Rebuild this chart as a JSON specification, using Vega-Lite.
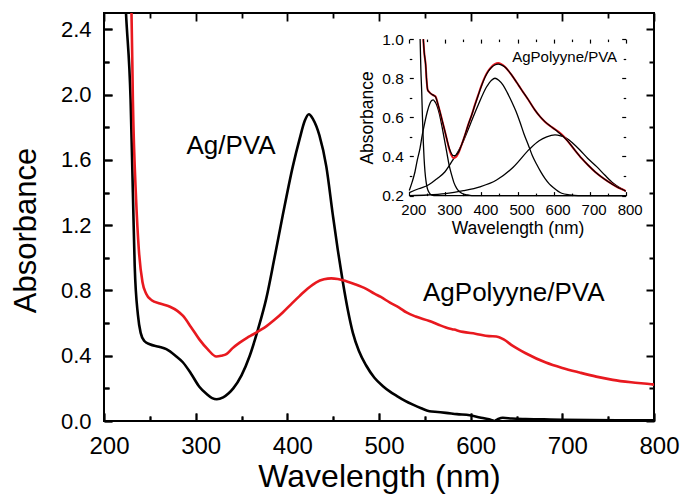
{
  "$schema": "https://vega.github.io/schema/vega-lite/v6.json",
  "width": 550,
  "height": 408,
  "autosize": {"type": "none"},
  "padding": {"left": 104, "top": 13, "right": 29, "bottom": 74},
  "background": "white",
  "config": {
    "view": {"stroke": "black", "strokeWidth": 2},
    "font": "Liberation Sans",
    "axis": {"grid": false, "domain": false, "labelFlush": false, "labelOverlap": false, "titleFontWeight": "normal", "labelFont": "Liberation Sans", "titleFont": "Liberation Sans"}
  },
  "datasets": {
    "agpva": [
      {"nm": 223.5, "v": 2.56}, {"nm": 224, "v": 2.5}, {"nm": 229, "v": 1.97}, {"nm": 231.5, "v": 1.4},
      {"nm": 233.5, "v": 0.95}, {"nm": 237, "v": 0.65}, {"nm": 240, "v": 0.54}, {"nm": 244, "v": 0.49},
      {"nm": 250, "v": 0.47}, {"nm": 260, "v": 0.455}, {"nm": 268, "v": 0.44}, {"nm": 278, "v": 0.4},
      {"nm": 286, "v": 0.36}, {"nm": 295, "v": 0.29}, {"nm": 304, "v": 0.21}, {"nm": 312, "v": 0.165},
      {"nm": 318, "v": 0.14}, {"nm": 323, "v": 0.133}, {"nm": 330, "v": 0.145}, {"nm": 336, "v": 0.17},
      {"nm": 341, "v": 0.2}, {"nm": 350, "v": 0.28}, {"nm": 359, "v": 0.4}, {"nm": 368, "v": 0.562},
      {"nm": 377, "v": 0.75}, {"nm": 386, "v": 1.0}, {"nm": 395, "v": 1.26}, {"nm": 406, "v": 1.56},
      {"nm": 413.5, "v": 1.73}, {"nm": 419, "v": 1.84}, {"nm": 423.5, "v": 1.88}, {"nm": 428, "v": 1.85},
      {"nm": 435, "v": 1.75}, {"nm": 442.5, "v": 1.56}, {"nm": 449.7, "v": 1.26}, {"nm": 455, "v": 1.05},
      {"nm": 460.6, "v": 0.85}, {"nm": 466, "v": 0.68}, {"nm": 471.5, "v": 0.54}, {"nm": 478, "v": 0.43},
      {"nm": 486, "v": 0.34}, {"nm": 495, "v": 0.265}, {"nm": 504, "v": 0.215}, {"nm": 512, "v": 0.18},
      {"nm": 519, "v": 0.155}, {"nm": 528, "v": 0.125}, {"nm": 537, "v": 0.1}, {"nm": 546, "v": 0.078},
      {"nm": 555, "v": 0.06}, {"nm": 564, "v": 0.055}, {"nm": 573, "v": 0.05}, {"nm": 585, "v": 0.042},
      {"nm": 599, "v": 0.035}, {"nm": 610, "v": 0.022}, {"nm": 620, "v": 0.01}, {"nm": 626, "v": 0.0},
      {"nm": 630, "v": 0.012}, {"nm": 635, "v": 0.02}, {"nm": 645, "v": 0.015}, {"nm": 660, "v": 0.012},
      {"nm": 680, "v": 0.01}, {"nm": 700, "v": 0.008}, {"nm": 730, "v": 0.006}, {"nm": 760, "v": 0.005},
      {"nm": 800, "v": 0.005}
    ],
    "agpoly": [
      {"nm": 229.5, "v": 2.56}, {"nm": 230, "v": 2.5}, {"nm": 231.5, "v": 1.97}, {"nm": 235, "v": 1.36},
      {"nm": 238, "v": 1.05}, {"nm": 242, "v": 0.85}, {"nm": 246, "v": 0.78}, {"nm": 252, "v": 0.74},
      {"nm": 261, "v": 0.72}, {"nm": 272, "v": 0.7}, {"nm": 280, "v": 0.675}, {"nm": 286, "v": 0.645},
      {"nm": 295, "v": 0.575}, {"nm": 304, "v": 0.5}, {"nm": 313, "v": 0.44}, {"nm": 322.6, "v": 0.395},
      {"nm": 328, "v": 0.4}, {"nm": 333.5, "v": 0.41}, {"nm": 340, "v": 0.445}, {"nm": 348, "v": 0.48},
      {"nm": 356, "v": 0.51}, {"nm": 362.5, "v": 0.53}, {"nm": 370, "v": 0.555}, {"nm": 377, "v": 0.58},
      {"nm": 386, "v": 0.62}, {"nm": 395, "v": 0.665}, {"nm": 404, "v": 0.715}, {"nm": 413.5, "v": 0.767},
      {"nm": 422, "v": 0.81}, {"nm": 431.6, "v": 0.85}, {"nm": 440, "v": 0.868}, {"nm": 448, "v": 0.874},
      {"nm": 455, "v": 0.87}, {"nm": 460.6, "v": 0.863}, {"nm": 473, "v": 0.84}, {"nm": 486, "v": 0.81},
      {"nm": 495, "v": 0.78}, {"nm": 502, "v": 0.76}, {"nm": 512, "v": 0.725}, {"nm": 522, "v": 0.695},
      {"nm": 530, "v": 0.665}, {"nm": 540, "v": 0.64}, {"nm": 555, "v": 0.613}, {"nm": 565, "v": 0.59},
      {"nm": 573, "v": 0.573}, {"nm": 582, "v": 0.56}, {"nm": 591.5, "v": 0.546}, {"nm": 605, "v": 0.535},
      {"nm": 620, "v": 0.52}, {"nm": 628, "v": 0.518}, {"nm": 636, "v": 0.5}, {"nm": 646, "v": 0.46},
      {"nm": 660, "v": 0.415}, {"nm": 682, "v": 0.358}, {"nm": 700, "v": 0.325}, {"nm": 718.8, "v": 0.297},
      {"nm": 737, "v": 0.272}, {"nm": 755, "v": 0.252}, {"nm": 775, "v": 0.237}, {"nm": 797, "v": 0.225},
      {"nm": 800, "v": 0.223}
    ],
    "label1": [{"label": "Ag/PVA", "nm": 290, "v": 1.636}],
    "label2": [{"label": "AgPolyyne/PVA", "nm": 548, "v": 0.733}],
    "comps": [
      {"comp": "A", "nm": 230, "v": 1.0}, {"comp": "A", "nm": 232, "v": 0.85}, {"comp": "A", "nm": 234.4, "v": 0.731},
      {"comp": "A", "nm": 236.5, "v": 0.6}, {"comp": "A", "nm": 238.8, "v": 0.476}, {"comp": "A", "nm": 241, "v": 0.39},
      {"comp": "A", "nm": 243.5, "v": 0.322}, {"comp": "A", "nm": 247, "v": 0.265}, {"comp": "A", "nm": 250, "v": 0.237},
      {"comp": "A", "nm": 256, "v": 0.213}, {"comp": "A", "nm": 262, "v": 0.203}, {"comp": "A", "nm": 275, "v": 0.2},
      {"comp": "A", "nm": 800, "v": 0.2},
      {"comp": "B", "nm": 200, "v": 0.226}, {"comp": "B", "nm": 208, "v": 0.27}, {"comp": "B", "nm": 215.8, "v": 0.322},
      {"comp": "B", "nm": 222, "v": 0.38}, {"comp": "B", "nm": 229.7, "v": 0.442}, {"comp": "B", "nm": 236, "v": 0.51},
      {"comp": "B", "nm": 243.5, "v": 0.578}, {"comp": "B", "nm": 250, "v": 0.63}, {"comp": "B", "nm": 257.4, "v": 0.672},
      {"comp": "B", "nm": 262, "v": 0.686}, {"comp": "B", "nm": 266.5, "v": 0.689}, {"comp": "B", "nm": 271, "v": 0.68},
      {"comp": "B", "nm": 276, "v": 0.663}, {"comp": "B", "nm": 283, "v": 0.62}, {"comp": "B", "nm": 289.8, "v": 0.561},
      {"comp": "B", "nm": 297, "v": 0.49}, {"comp": "B", "nm": 303.7, "v": 0.424}, {"comp": "B", "nm": 310, "v": 0.36},
      {"comp": "B", "nm": 317.5, "v": 0.305}, {"comp": "B", "nm": 324, "v": 0.265}, {"comp": "B", "nm": 331.4, "v": 0.237},
      {"comp": "B", "nm": 338, "v": 0.222}, {"comp": "B", "nm": 345.3, "v": 0.212}, {"comp": "B", "nm": 360, "v": 0.204},
      {"comp": "B", "nm": 373, "v": 0.2}, {"comp": "B", "nm": 800, "v": 0.2},
      {"comp": "C", "nm": 200, "v": 0.215}, {"comp": "C", "nm": 226, "v": 0.235}, {"comp": "C", "nm": 252.7, "v": 0.254},
      {"comp": "C", "nm": 276, "v": 0.285}, {"comp": "C", "nm": 299, "v": 0.322}, {"comp": "C", "nm": 320, "v": 0.38},
      {"comp": "C", "nm": 345, "v": 0.459}, {"comp": "C", "nm": 368, "v": 0.56}, {"comp": "C", "nm": 391, "v": 0.663},
      {"comp": "C", "nm": 414, "v": 0.755}, {"comp": "C", "nm": 428, "v": 0.79}, {"comp": "C", "nm": 437.6, "v": 0.8},
      {"comp": "C", "nm": 448, "v": 0.79}, {"comp": "C", "nm": 460, "v": 0.765}, {"comp": "C", "nm": 472, "v": 0.725},
      {"comp": "C", "nm": 484, "v": 0.68}, {"comp": "C", "nm": 496, "v": 0.63}, {"comp": "C", "nm": 507, "v": 0.575},
      {"comp": "C", "nm": 518, "v": 0.515}, {"comp": "C", "nm": 530, "v": 0.459}, {"comp": "C", "nm": 541, "v": 0.405},
      {"comp": "C", "nm": 553, "v": 0.36}, {"comp": "C", "nm": 565, "v": 0.32}, {"comp": "C", "nm": 576, "v": 0.288},
      {"comp": "C", "nm": 588, "v": 0.26}, {"comp": "C", "nm": 600, "v": 0.24}, {"comp": "C", "nm": 622.5, "v": 0.212},
      {"comp": "C", "nm": 645, "v": 0.204}, {"comp": "C", "nm": 668, "v": 0.2}, {"comp": "C", "nm": 800, "v": 0.2},
      {"comp": "D", "nm": 200, "v": 0.2}, {"comp": "D", "nm": 250, "v": 0.203}, {"comp": "D", "nm": 300, "v": 0.21},
      {"comp": "D", "nm": 350, "v": 0.225}, {"comp": "D", "nm": 396, "v": 0.245}, {"comp": "D", "nm": 442, "v": 0.28},
      {"comp": "D", "nm": 488, "v": 0.345}, {"comp": "D", "nm": 534.6, "v": 0.44}, {"comp": "D", "nm": 560, "v": 0.48},
      {"comp": "D", "nm": 581, "v": 0.5}, {"comp": "D", "nm": 604, "v": 0.51}, {"comp": "D", "nm": 620, "v": 0.505},
      {"comp": "D", "nm": 636, "v": 0.493}, {"comp": "D", "nm": 655, "v": 0.465}, {"comp": "D", "nm": 673, "v": 0.433},
      {"comp": "D", "nm": 695, "v": 0.39}, {"comp": "D", "nm": 719.5, "v": 0.348}, {"comp": "D", "nm": 742, "v": 0.305},
      {"comp": "D", "nm": 765.6, "v": 0.263}, {"comp": "D", "nm": 785, "v": 0.238}, {"comp": "D", "nm": 800, "v": 0.222}
    ],
    "insetData": [
      {"nm": 238.8, "v": 1.0}, {"nm": 241.5, "v": 0.93}, {"nm": 245.4, "v": 0.868}, {"nm": 248, "v": 0.79},
      {"nm": 251, "v": 0.74}, {"nm": 256, "v": 0.728}, {"nm": 262, "v": 0.718}, {"nm": 268, "v": 0.712},
      {"nm": 273, "v": 0.706}, {"nm": 279, "v": 0.67}, {"nm": 285, "v": 0.629}, {"nm": 292, "v": 0.578},
      {"nm": 299, "v": 0.527}, {"nm": 305, "v": 0.48}, {"nm": 310, "v": 0.442}, {"nm": 316, "v": 0.41},
      {"nm": 322, "v": 0.392}, {"nm": 328, "v": 0.395}, {"nm": 336, "v": 0.416}, {"nm": 345, "v": 0.46},
      {"nm": 354.4, "v": 0.51}, {"nm": 363, "v": 0.56}, {"nm": 373, "v": 0.612}, {"nm": 382, "v": 0.665},
      {"nm": 391, "v": 0.714}, {"nm": 400, "v": 0.762}, {"nm": 410, "v": 0.808}, {"nm": 419, "v": 0.838},
      {"nm": 428.4, "v": 0.859}, {"nm": 437, "v": 0.872}, {"nm": 446.7, "v": 0.878}, {"nm": 455, "v": 0.872},
      {"nm": 465, "v": 0.859}, {"nm": 475, "v": 0.838}, {"nm": 484, "v": 0.816}, {"nm": 498, "v": 0.778},
      {"nm": 511.6, "v": 0.74}, {"nm": 530, "v": 0.69}, {"nm": 548.5, "v": 0.637}, {"nm": 562, "v": 0.605},
      {"nm": 576, "v": 0.578}, {"nm": 595, "v": 0.55}, {"nm": 613, "v": 0.527}, {"nm": 627, "v": 0.505},
      {"nm": 641, "v": 0.475}, {"nm": 660, "v": 0.43}, {"nm": 678, "v": 0.39}, {"nm": 696, "v": 0.355},
      {"nm": 714.8, "v": 0.322}, {"nm": 733, "v": 0.295}, {"nm": 751.7, "v": 0.271}, {"nm": 775, "v": 0.245},
      {"nm": 798, "v": 0.225}, {"nm": 800, "v": 0.223}
    ],
    "insetFit": [
      {"nm": 238.8, "v": 1.0}, {"nm": 241.5, "v": 0.93}, {"nm": 245.4, "v": 0.868}, {"nm": 248, "v": 0.79},
      {"nm": 251, "v": 0.74}, {"nm": 256, "v": 0.728}, {"nm": 262, "v": 0.718}, {"nm": 268, "v": 0.712},
      {"nm": 273, "v": 0.704}, {"nm": 279, "v": 0.67}, {"nm": 285, "v": 0.629}, {"nm": 292, "v": 0.578},
      {"nm": 299, "v": 0.527}, {"nm": 305, "v": 0.482}, {"nm": 310, "v": 0.447}, {"nm": 316, "v": 0.418},
      {"nm": 322, "v": 0.404}, {"nm": 328, "v": 0.405}, {"nm": 336, "v": 0.42}, {"nm": 345, "v": 0.46},
      {"nm": 354.4, "v": 0.51}, {"nm": 363, "v": 0.56}, {"nm": 373, "v": 0.612}, {"nm": 382, "v": 0.663},
      {"nm": 391, "v": 0.712}, {"nm": 400, "v": 0.76}, {"nm": 410, "v": 0.805}, {"nm": 419, "v": 0.835},
      {"nm": 428.4, "v": 0.856}, {"nm": 437, "v": 0.868}, {"nm": 446.7, "v": 0.872}, {"nm": 455, "v": 0.868},
      {"nm": 465, "v": 0.857}, {"nm": 475, "v": 0.838}, {"nm": 484, "v": 0.816}, {"nm": 498, "v": 0.778},
      {"nm": 511.6, "v": 0.74}, {"nm": 530, "v": 0.69}, {"nm": 548.5, "v": 0.637}, {"nm": 562, "v": 0.605},
      {"nm": 576, "v": 0.578}, {"nm": 595, "v": 0.55}, {"nm": 613, "v": 0.524}, {"nm": 627, "v": 0.502},
      {"nm": 641, "v": 0.475}, {"nm": 660, "v": 0.43}, {"nm": 678, "v": 0.39}, {"nm": 696, "v": 0.355},
      {"nm": 714.8, "v": 0.322}, {"nm": 733, "v": 0.295}, {"nm": 751.7, "v": 0.271}, {"nm": 775, "v": 0.245},
      {"nm": 798, "v": 0.225}, {"nm": 800, "v": 0.223}
    ],
    "insetLabel": [{"label": "AgPolyyne/PVA", "nm": 776, "v": 0.883}]
  },
  "layer": [
    {
      "mark": {"type": "rect", "fill": "white", "fillOpacity": 0, "stroke": "black", "strokeWidth": 1.3},
      "encoding": {
        "x": {"datum": 200, "type": "quantitative", "scale": {"domain": [200, 800], "range": [305.3, 521.7], "nice": false, "zero": false}, "axis": null},
        "x2": {"datum": 800},
        "y": {"datum": 0.2, "type": "quantitative", "scale": {"domain": [0.2, 1.0], "range": [182.6, 26.1], "nice": false, "zero": false}, "axis": null},
        "y2": {"datum": 1.0}
      }
    },
    {
      "data": {"name": "comps"},
      "mark": {"type": "line", "color": "black", "strokeWidth": 1.3, "interpolate": "monotone"},
      "encoding": {
        "detail": {"field": "comp"},
        "x": {"field": "nm", "type": "quantitative", "scale": {"domain": [200, 800], "range": [305.3, 521.7], "nice": false, "zero": false},
          "axis": {"orient": "bottom", "offset": -229.4, "values": [200, 300, 400, 500, 600, 700, 800], "tickSize": 4, "tickWidth": 1.2, "tickColor": "black",
            "labelFontSize": 15, "labelPadding": 7, "labelOffset": 4, "labelColor": "black",
            "title": "Wavelength (nm)", "titleFontSize": 17.5, "titleColor": "black", "titleBaseline": "alphabetic", "titleX": 413.5, "titleY": 42}},
        "y": {"field": "v", "type": "quantitative", "scale": {"domain": [0.2, 1.0], "range": [182.6, 26.1], "nice": false, "zero": false},
          "axis": {"orient": "left", "offset": -309.3, "values": [0.2, 0.4, 0.6, 0.8, 1.0], "format": ".1f", "tickSize": 4, "tickWidth": 1.2, "tickColor": "black",
            "labelFontSize": 15.5, "labelPadding": 6, "labelColor": "black",
            "title": "Absorbance", "titleFontSize": 17.5, "titleColor": "black", "titleBaseline": "alphabetic", "titleX": -41.3, "titleY": 104.4, "titleAngle": -90}}
      }
    },
    {
      "data": {"name": "insetData"},
      "mark": {"type": "line", "color": "#e8191f", "strokeWidth": 2, "interpolate": "monotone"},
      "encoding": {
        "x": {"field": "nm", "type": "quantitative", "scale": {"domain": [200, 800], "range": [305.3, 521.7], "nice": false, "zero": false},
          "axis": {"orient": "bottom", "offset": -227.9, "values": [250, 350, 450, 550, 650, 750], "tickSize": 2.5, "tickWidth": 1.2, "tickColor": "black",
            "labels": false, "title": null}},
        "y": {"field": "v", "type": "quantitative", "scale": {"domain": [0.2, 1.0], "range": [182.6, 26.1], "nice": false, "zero": false},
          "axis": {"orient": "left", "offset": -307.8, "values": [0.3, 0.5, 0.7, 0.9], "tickSize": 2.5, "tickWidth": 1.2, "tickColor": "black",
            "labels": false, "title": null}}
      }
    },
    {
      "data": {"name": "insetFit"},
      "mark": {"type": "line", "color": "black", "strokeWidth": 1.2, "interpolate": "monotone"},
      "encoding": {
        "x": {"field": "nm", "type": "quantitative", "scale": {"domain": [200, 800], "range": [305.3, 521.7], "nice": false, "zero": false},
          "axis": {"orient": "top", "offset": -30.1, "values": [200, 300, 400, 500, 600, 700, 800], "tickSize": 4, "tickWidth": 1.2, "tickColor": "black",
            "labels": false, "title": null}},
        "y": {"field": "v", "type": "quantitative", "scale": {"domain": [0.2, 1.0], "range": [182.6, 26.1], "nice": false, "zero": false},
          "axis": {"orient": "right", "offset": -32.3, "values": [0.2, 0.4, 0.6, 0.8, 1.0], "tickSize": 4, "tickWidth": 1.2, "tickColor": "black",
            "labels": false, "title": null}}
      }
    },
    {
      "data": {"name": "insetLabel"},
      "mark": {"type": "text", "fontSize": 15, "align": "right", "baseline": "alphabetic", "color": "black", "font": "Liberation Sans"},
      "encoding": {
        "text": {"field": "label"},
        "x": {"field": "nm", "type": "quantitative", "scale": {"domain": [200, 800], "range": [305.3, 521.7], "nice": false, "zero": false},
          "axis": {"orient": "top", "offset": -28.6, "values": [250, 350, 450, 550, 650, 750], "tickSize": 2.5, "tickWidth": 1.2, "tickColor": "black",
            "labels": false, "title": null}},
        "y": {"field": "v", "type": "quantitative", "scale": {"domain": [0.2, 1.0], "range": [182.6, 26.1], "nice": false, "zero": false},
          "axis": {"orient": "right", "offset": -30.8, "values": [0.3, 0.5, 0.7, 0.9], "tickSize": 2.5, "tickWidth": 1.2, "tickColor": "black",
            "labels": false, "title": null}}
      }
    },
    {
      "data": {"name": "agpva"},
      "mark": {"type": "line", "color": "black", "strokeWidth": 2.6, "clip": true, "interpolate": "monotone"},
      "encoding": {
        "x": {"field": "nm", "type": "quantitative", "scale": {"domain": [200, 800], "range": [0, 550], "nice": false, "zero": false},
          "axis": {"orient": "bottom", "offset": -8, "values": [200, 300, 400, 500, 600, 700, 800], "tickSize": 8, "tickWidth": 1.8, "tickColor": "black",
            "labelFontSize": 24, "labelPadding": 13, "labelOffset": 5, "labelColor": "black",
            "title": "Wavelength (nm)", "titleFontSize": 32, "titleColor": "black", "titleBaseline": "alphabetic", "titleY": 73}},
        "y": {"field": "v", "type": "quantitative", "scale": {"domain": [0, 2.5], "range": [408, 0], "nice": false, "zero": false},
          "axis": {"orient": "left", "offset": -8, "values": [0, 0.4, 0.8, 1.2, 1.6, 2.0, 2.4], "format": ".1f", "tickSize": 8, "tickWidth": 1.8, "tickColor": "black",
            "labelFontSize": 22, "labelPadding": 13, "labelColor": "black",
            "title": "Absorbance", "titleFontSize": 31, "titleColor": "black", "titleBaseline": "alphabetic", "titleX": -77, "titleY": 217, "titleAngle": -90}}
      }
    },
    {
      "data": {"name": "agpoly"},
      "mark": {"type": "line", "color": "#e8191f", "strokeWidth": 2.6, "clip": true, "interpolate": "monotone"},
      "encoding": {
        "x": {"field": "nm", "type": "quantitative", "scale": {"domain": [200, 800], "range": [0, 550], "nice": false, "zero": false},
          "axis": {"orient": "bottom", "offset": -5, "values": [250, 350, 450, 550, 650, 750], "tickSize": 5, "tickWidth": 1.8, "tickColor": "black",
            "labels": false, "title": null}},
        "y": {"field": "v", "type": "quantitative", "scale": {"domain": [0, 2.5], "range": [408, 0], "nice": false, "zero": false},
          "axis": {"orient": "left", "offset": -5, "values": [0.2, 0.6, 1.0, 1.4, 1.8, 2.2], "tickSize": 5, "tickWidth": 1.8, "tickColor": "black",
            "labels": false, "title": null}}
      }
    },
    {
      "data": {"name": "label1"},
      "mark": {"type": "text", "fontSize": 26, "align": "left", "baseline": "alphabetic", "color": "black", "font": "Liberation Sans"},
      "encoding": {
        "text": {"field": "label"},
        "x": {"field": "nm", "type": "quantitative", "scale": {"domain": [200, 800], "range": [0, 550], "nice": false, "zero": false},
          "axis": {"orient": "top", "values": [200, 300, 400, 500, 600, 700, 800], "ticks": false, "labels": false, "title": null,
            "grid": true, "gridColor": "black", "gridOpacity": 1, "gridWidth": 1.8, "gridDash": [8, 392]}},
        "y": {"field": "v", "type": "quantitative", "scale": {"domain": [0, 2.5], "range": [408, 0], "nice": false, "zero": false},
          "axis": {"orient": "right", "values": [0, 0.4, 0.8, 1.2, 1.6, 2.0, 2.4], "ticks": false, "labels": false, "title": null,
            "grid": true, "gridColor": "black", "gridOpacity": 1, "gridWidth": 1.8, "gridDash": [8, 534]}}
      }
    },
    {
      "data": {"name": "label2"},
      "mark": {"type": "text", "fontSize": 26, "align": "left", "baseline": "alphabetic", "color": "black", "font": "Liberation Sans"},
      "encoding": {
        "text": {"field": "label"},
        "x": {"field": "nm", "type": "quantitative", "scale": {"domain": [200, 800], "range": [0, 550], "nice": false, "zero": false},
          "axis": {"orient": "top", "values": [250, 350, 450, 550, 650, 750], "ticks": false, "labels": false, "title": null,
            "grid": true, "gridColor": "black", "gridOpacity": 1, "gridWidth": 1.8, "gridDash": [5, 398]}},
        "y": {"field": "v", "type": "quantitative", "scale": {"domain": [0, 2.5], "range": [408, 0], "nice": false, "zero": false},
          "axis": {"orient": "right", "values": [0.2, 0.6, 1.0, 1.4, 1.8, 2.2], "ticks": false, "labels": false, "title": null,
            "grid": true, "gridColor": "black", "gridOpacity": 1, "gridWidth": 1.8, "gridDash": [5, 540]}}
      }
    }
  ],
  "resolve": {
    "scale": {"x": "independent", "y": "independent"},
    "axis": {"x": "independent", "y": "independent"}
  }
}
